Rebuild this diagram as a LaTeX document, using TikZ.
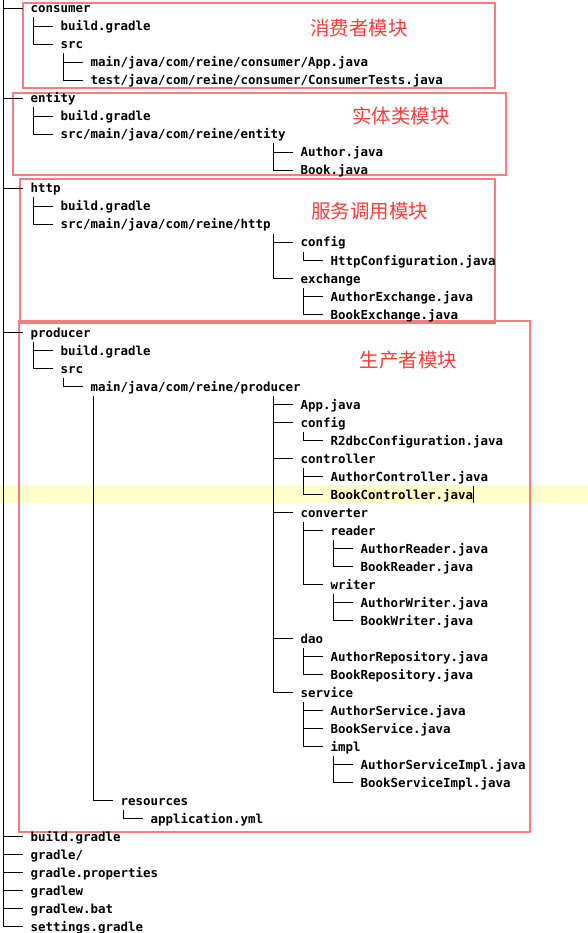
\documentclass[tikz,border=0pt]{standalone}
\usepackage{fontspec}
\usepackage{tikz}
\usetikzlibrary{calc}
\newfontfamily\treefont{DejaVu Sans Mono}
\newfontfamily\cjkfont{Noto Sans CJK SC}
\definecolor{boxred}{RGB}{245,125,125}
\definecolor{tagred}{RGB}{250,60,60}
\definecolor{hilite}{RGB}{255,255,204}
\tikzstyle{entry} = [anchor=west, inner sep=0pt, text height=10pt, text depth=1pt, font=\treefont\bfseries\fontsize{12.45}{14}\selectfont]
\tikzstyle{branch} = [line width=1.9pt, draw=black]
\tikzstyle{module} = [line width=1.5pt, draw=boxred]
\tikzstyle{tag} = [inner sep=0pt, text=tagred, font=\cjkfont\fontsize{19.5}{20}\selectfont]

\begin{document}
\begin{tikzpicture}[x=1pt, y=-1pt]
\useasboundingbox (0,0) rectangle (588,933);

% Highlighted line
\fill [hilite] (0,485) rectangle (588,503);

% Module boxes
\draw [module] (23,3) rectangle (495,88);
\draw [module] (13,93) rectangle (506,175);
\draw [module] (20,179) rectangle (495,323);
\draw [module] (19,321) rectangle (530,832);

\node (tagCon) [tag] at (359,28) {消费者模块};
\node (tagEnt) [tag] at (401,116) {实体类模块};
\node (tagHttp) [tag] at (369.5,211) {服务调用模块};
\node (tagProd) [tag] at (408.5,360) {生产者模块};

% consumer
\node (con) [entry] at (30.5,8.5) {consumer};
\node (conBuild) [entry] at (60.5,26.5) {build.gradle};
\node (conSrc) [entry] at (60.5,44.5) {src};
\node (conApp) [entry] at (90.5,62.5) {main/java/com/reine/consumer/App.java};
\node (conTest) [entry] at (90.5,80.5) {test/java/com/reine/consumer/ConsumerTests.java};

% entity
\node (ent) [entry] at (30.5,98.5) {entity};
\node (entBuild) [entry] at (60.5,116.5) {build.gradle};
\node (entSrc) [entry] at (60.5,134.5) {src/main/java/com/reine/entity};
\node (entAuthor) [entry] at (300.5,152.5) {Author.java};
\node (entBook) [entry] at (300.5,170.5) {Book.java};

% http
\node (http) [entry] at (30.5,188.5) {http};
\node (httpBuild) [entry] at (60.5,206.5) {build.gradle};
\node (httpSrc) [entry] at (60.5,224.5) {src/main/java/com/reine/http};
\node (httpConfig) [entry] at (300.5,242.5) {config};
\node (httpConfCls) [entry] at (330.5,260.5) {HttpConfiguration.java};
\node (httpExch) [entry] at (300.5,278.5) {exchange};
\node (httpAuthorEx) [entry] at (330.5,296.5) {AuthorExchange.java};
\node (httpBookEx) [entry] at (330.5,314.5) {BookExchange.java};

% producer
\node (prod) [entry] at (30.5,332.5) {producer};
\node (prodBuild) [entry] at (60.5,350.5) {build.gradle};
\node (prodSrc) [entry] at (60.5,368.5) {src};
\node (prodMain) [entry] at (90.5,386.5) {main/java/com/reine/producer};
\node (prodApp) [entry] at (300.5,404.5) {App.java};
\node (prodConfig) [entry] at (300.5,422.5) {config};
\node (prodR2dbc) [entry] at (330.5,440.5) {R2dbcConfiguration.java};
\node (prodCtl) [entry] at (300.5,458.5) {controller};
\node (prodAuthorCtl) [entry] at (330.5,476.5) {AuthorController.java};
\node (prodBookCtl) [entry] at (330.5,494.5) {BookController.java};
\node (prodConv) [entry] at (300.5,512.5) {converter};
\node (prodReader) [entry] at (330.5,530.5) {reader};
\node (prodAuthorRd) [entry] at (360.5,548.5) {AuthorReader.java};
\node (prodBookRd) [entry] at (360.5,566.5) {BookReader.java};
\node (prodWriter) [entry] at (330.5,584.5) {writer};
\node (prodAuthorWr) [entry] at (360.5,602.5) {AuthorWriter.java};
\node (prodBookWr) [entry] at (360.5,620.5) {BookWriter.java};
\node (prodDao) [entry] at (300.5,638.5) {dao};
\node (prodAuthorRepo) [entry] at (330.5,656.5) {AuthorRepository.java};
\node (prodBookRepo) [entry] at (330.5,674.5) {BookRepository.java};
\node (prodSvc) [entry] at (300.5,692.5) {service};
\node (prodAuthorSvc) [entry] at (330.5,710.5) {AuthorService.java};
\node (prodBookSvc) [entry] at (330.5,728.5) {BookService.java};
\node (prodImpl) [entry] at (330.5,746.5) {impl};
\node (prodAuthorImpl) [entry] at (360.5,764.5) {AuthorServiceImpl.java};
\node (prodBookImpl) [entry] at (360.5,782.5) {BookServiceImpl.java};
\node (prodRes) [entry] at (120.5,800.5) {resources};
\node (prodYml) [entry] at (150.5,818.5) {application.yml};

% root files
\node (rootBuild) [entry] at (30.5,836.5) {build.gradle};
\node (rootGradle) [entry] at (30.5,854.5) {gradle/};
\node (rootProps) [entry] at (30.5,872.5) {gradle.properties};
\node (rootGradlew) [entry] at (30.5,890.5) {gradlew};
\node (rootBat) [entry] at (30.5,908.5) {gradlew.bat};
\node (rootSettings) [entry] at (30.5,926.5) {settings.gradle};

% Cursor
\draw [line width=0.8pt] ([xshift=0.3pt,yshift=3pt]prodBookCtl.north east) -- ([xshift=0.3pt,yshift=-3pt]prodBookCtl.south east);

% Tree lines
\draw [branch] ([xshift=-27pt,yshift=9pt]con.west) -- ([xshift=-27pt]rootSettings.west) -- ([xshift=-8pt]rootSettings.west);
\draw [branch] ([xshift=-27pt]con.west) -- ([xshift=-8pt]con.west);
\draw [branch] ([xshift=-27pt]ent.west) -- ([xshift=-8pt]ent.west);
\draw [branch] ([xshift=-27pt]http.west) -- ([xshift=-8pt]http.west);
\draw [branch] ([xshift=-27pt]prod.west) -- ([xshift=-8pt]prod.west);
\draw [branch] ([xshift=-27pt]rootBuild.west) -- ([xshift=-8pt]rootBuild.west);
\draw [branch] ([xshift=-27pt]rootGradle.west) -- ([xshift=-8pt]rootGradle.west);
\draw [branch] ([xshift=-27pt]rootProps.west) -- ([xshift=-8pt]rootProps.west);
\draw [branch] ([xshift=-27pt]rootGradlew.west) -- ([xshift=-8pt]rootGradlew.west);
\draw [branch] ([xshift=-27pt]rootBat.west) -- ([xshift=-8pt]rootBat.west);

\draw [branch] ([xshift=-27pt,yshift=9pt]conBuild.west) -- ([xshift=-27pt]conSrc.west) -- ([xshift=-8pt]conSrc.west);
\draw [branch] ([xshift=-27pt]conBuild.west) -- ([xshift=-8pt]conBuild.west);
\draw [branch] ([xshift=-27pt,yshift=9pt]conApp.west) -- ([xshift=-27pt]conTest.west) -- ([xshift=-8pt]conTest.west);
\draw [branch] ([xshift=-27pt]conApp.west) -- ([xshift=-8pt]conApp.west);

\draw [branch] ([xshift=-27pt,yshift=9pt]entBuild.west) -- ([xshift=-27pt]entSrc.west) -- ([xshift=-8pt]entSrc.west);
\draw [branch] ([xshift=-27pt]entBuild.west) -- ([xshift=-8pt]entBuild.west);
\draw [branch] ([xshift=-27pt,yshift=9pt]entAuthor.west) -- ([xshift=-27pt]entBook.west) -- ([xshift=-8pt]entBook.west);
\draw [branch] ([xshift=-27pt]entAuthor.west) -- ([xshift=-8pt]entAuthor.west);

\draw [branch] ([xshift=-27pt,yshift=9pt]httpBuild.west) -- ([xshift=-27pt]httpSrc.west) -- ([xshift=-8pt]httpSrc.west);
\draw [branch] ([xshift=-27pt]httpBuild.west) -- ([xshift=-8pt]httpBuild.west);
\draw [branch] ([xshift=-27pt,yshift=9pt]httpConfig.west) -- ([xshift=-27pt]httpExch.west) -- ([xshift=-8pt]httpExch.west);
\draw [branch] ([xshift=-27pt]httpConfig.west) -- ([xshift=-8pt]httpConfig.west);
\draw [branch] ([xshift=-27pt,yshift=9pt]httpConfCls.west) -- ([xshift=-27pt]httpConfCls.west) -- ([xshift=-8pt]httpConfCls.west);
\draw [branch] ([xshift=-27pt,yshift=9pt]httpAuthorEx.west) -- ([xshift=-27pt]httpBookEx.west) -- ([xshift=-8pt]httpBookEx.west);
\draw [branch] ([xshift=-27pt]httpAuthorEx.west) -- ([xshift=-8pt]httpAuthorEx.west);

\draw [branch] ([xshift=-27pt,yshift=9pt]prodBuild.west) -- ([xshift=-27pt]prodSrc.west) -- ([xshift=-8pt]prodSrc.west);
\draw [branch] ([xshift=-27pt]prodBuild.west) -- ([xshift=-8pt]prodBuild.west);
\draw [branch] ([xshift=-27pt,yshift=9pt]prodMain.west) -- ([xshift=-27pt]prodMain.west) -- ([xshift=-8pt]prodMain.west);
\draw [branch] ([xshift=-27pt,yshift=9pt]prodApp.west) -- ([xshift=-27pt]prodSvc.west) -- ([xshift=-8pt]prodSvc.west);
\draw [branch] ([xshift=-27pt]prodApp.west) -- ([xshift=-8pt]prodApp.west);
\draw [branch] ([xshift=-27pt]prodConfig.west) -- ([xshift=-8pt]prodConfig.west);
\draw [branch] ([xshift=-27pt]prodCtl.west) -- ([xshift=-8pt]prodCtl.west);
\draw [branch] ([xshift=-27pt]prodConv.west) -- ([xshift=-8pt]prodConv.west);
\draw [branch] ([xshift=-27pt]prodDao.west) -- ([xshift=-8pt]prodDao.west);
\draw [branch] ($(prodRes.west |- prodApp.west)+(-27,-9)$) -- ([xshift=-27pt]prodRes.west) -- ([xshift=-8pt]prodRes.west);
\draw [branch] ([xshift=-27pt,yshift=9pt]prodR2dbc.west) -- ([xshift=-27pt]prodR2dbc.west) -- ([xshift=-8pt]prodR2dbc.west);
\draw [branch] ([xshift=-27pt,yshift=9pt]prodAuthorCtl.west) -- ([xshift=-27pt]prodBookCtl.west) -- ([xshift=-8pt]prodBookCtl.west);
\draw [branch] ([xshift=-27pt]prodAuthorCtl.west) -- ([xshift=-8pt]prodAuthorCtl.west);
\draw [branch] ([xshift=-27pt,yshift=9pt]prodReader.west) -- ([xshift=-27pt]prodWriter.west) -- ([xshift=-8pt]prodWriter.west);
\draw [branch] ([xshift=-27pt]prodReader.west) -- ([xshift=-8pt]prodReader.west);
\draw [branch] ([xshift=-27pt,yshift=9pt]prodAuthorRd.west) -- ([xshift=-27pt]prodBookRd.west) -- ([xshift=-8pt]prodBookRd.west);
\draw [branch] ([xshift=-27pt]prodAuthorRd.west) -- ([xshift=-8pt]prodAuthorRd.west);
\draw [branch] ([xshift=-27pt,yshift=9pt]prodAuthorWr.west) -- ([xshift=-27pt]prodBookWr.west) -- ([xshift=-8pt]prodBookWr.west);
\draw [branch] ([xshift=-27pt]prodAuthorWr.west) -- ([xshift=-8pt]prodAuthorWr.west);
\draw [branch] ([xshift=-27pt,yshift=9pt]prodAuthorRepo.west) -- ([xshift=-27pt]prodBookRepo.west) -- ([xshift=-8pt]prodBookRepo.west);
\draw [branch] ([xshift=-27pt]prodAuthorRepo.west) -- ([xshift=-8pt]prodAuthorRepo.west);
\draw [branch] ([xshift=-27pt,yshift=9pt]prodAuthorSvc.west) -- ([xshift=-27pt]prodImpl.west) -- ([xshift=-8pt]prodImpl.west);
\draw [branch] ([xshift=-27pt]prodAuthorSvc.west) -- ([xshift=-8pt]prodAuthorSvc.west);
\draw [branch] ([xshift=-27pt]prodBookSvc.west) -- ([xshift=-8pt]prodBookSvc.west);
\draw [branch] ([xshift=-27pt,yshift=9pt]prodAuthorImpl.west) -- ([xshift=-27pt]prodBookImpl.west) -- ([xshift=-8pt]prodBookImpl.west);
\draw [branch] ([xshift=-27pt]prodAuthorImpl.west) -- ([xshift=-8pt]prodAuthorImpl.west);
\draw [branch] ([xshift=-27pt,yshift=9pt]prodYml.west) -- ([xshift=-27pt]prodYml.west) -- ([xshift=-8pt]prodYml.west);

\end{tikzpicture}
\end{document}
